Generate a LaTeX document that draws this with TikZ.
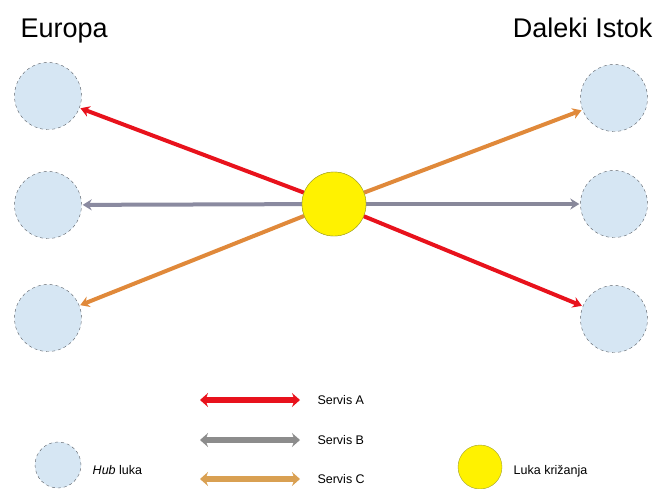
\documentclass[tikz,border=0pt]{standalone}
\usepackage{fontspec}
\setmainfont{Liberation Sans}
\usetikzlibrary{arrows.meta}
\usetikzlibrary{positioning}

\definecolor{hubfill}{HTML}{D6E6F3}
\definecolor{hubline}{HTML}{5A5F66}
\definecolor{xline}{HTML}{A0A030}
\definecolor{servisA}{HTML}{E8121C}
\definecolor{servisB}{HTML}{8A8AA0}
\definecolor{servisC}{HTML}{E0893A}
\definecolor{legB}{HTML}{8C8C8C}
\definecolor{legC}{HTML}{D9A052}

\begin{document}
\begin{tikzpicture}[x=1pt,y=-1pt,
hub/.style={circle,draw=hubline,dashed,thin,fill=hubfill,minimum size=67pt,inner sep=0pt},
kriz/.style={circle,draw=xline,thin,fill=yellow,minimum size=64pt,inner sep=0pt},
ruta/.style={line width=4pt,-{Stealth[length=9pt,width=11pt]},shorten >=1pt},
leg/.style={line width=6pt,{Stealth[length=8pt,width=14pt]}-{Stealth[length=8pt,width=14pt]}},
naslov/.style={font=\fontsize{27}{30}\selectfont},
opis/.style={font=\fontsize{12.5}{14}\selectfont}]
\useasboundingbox (0,0) rectangle (660,488);
\node[naslov,anchor=base west] (eu) at (17,37) {Europa};
\node[naslov,anchor=base east] (di) at (656,37) {Daleki Istok};
\node[hub] (e1) at (48,96) {};
\node[hub] (e2) at (48,205) {};
\node[hub] (e3) at (48,318) {};
\node[hub] (d1) at (614,98) {};
\node[hub] (d2) at (614,204) {};
\node[hub] (d3) at (614,319) {};
\node[kriz] (x) at (334,204) {};
\draw[ruta,servisA] (x) -- (e1);
\draw[ruta,servisB] (x) -- (e2);
\draw[ruta,servisC] (x) -- (e3);
\draw[ruta,servisC] (x) -- (d1);
\draw[ruta,servisB!80!gray] (x) -- (d2);
\draw[ruta,servisA] (x) -- (d3);
\node[kriz] at (x) {};
\coordinate (a1) at (200,400);
\coordinate (a2) at (300,400);
\coordinate (b1) at (200,440);
\coordinate (b2) at (300,440);
\coordinate (c1) at (200,479);
\coordinate (c2) at (300,479);
\draw[leg,servisA] (a1) -- (a2);
\draw[leg,legB] (b1) -- (b2);
\draw[leg,legC] (c1) -- (c2);
\node[opis,right=14pt of a2] (sa) {Servis A};
\node[opis,right=14pt of b2] (sb) {Servis B};
\node[opis,right=14pt of c2] (sc) {Servis C};
\node[hub,minimum size=46pt] (lh) at (58,465) {};
\node[opis,right=8pt of lh,yshift=-5pt] (lht) {\textit{Hub} luka};
\node[kriz,minimum size=44pt] (lx) at (480,467) {};
\node[opis,right=8pt of lx,yshift=-4pt] (lxt) {Luka križanja};
\end{tikzpicture}
\end{document}
